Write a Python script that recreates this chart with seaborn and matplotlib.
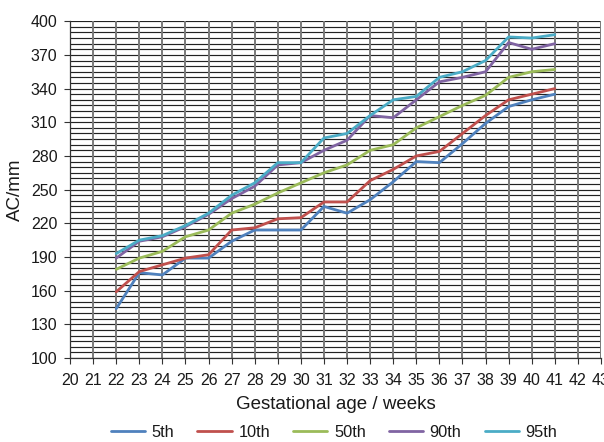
import numpy as np
import pandas as pd
import matplotlib
matplotlib.use("Agg")
import matplotlib.pyplot as plt
import seaborn as sns

weeks = list(range(22, 42))
p5 = [144, 176, 174, 189, 189, 204, 214, 214, 214, 235, 229, 241, 257, 275, 274, 291, 309, 324, 330, 335]
p10 = [159, 177, 183, 189, 192, 214, 216, 224, 225, 239, 239, 258, 268, 280, 284, 300, 316, 330, 335, 340]
p50 = [179, 189, 195, 208, 214, 229, 237, 247, 256, 265, 272, 285, 290, 305, 315, 325, 334, 350, 355, 357]
p90 = [189, 204, 208, 217, 228, 242, 253, 272, 274, 285, 294, 316, 314, 330, 346, 350, 355, 381, 375, 380]
p95 = [193, 205, 209, 218, 229, 245, 256, 274, 274, 296, 300, 316, 330, 333, 350, 355, 365, 386, 385, 388]

series_names = ["5th", "10th", "50th", "90th", "95th"]
colors = ["#4F81BD", "#C0504D", "#9BBB59", "#8064A2", "#4BACC6"]

df = pd.DataFrame({"week": weeks, "5th": p5, "10th": p10, "50th": p50, "90th": p90, "95th": p95})
long = df.melt(id_vars="week", var_name="centile", value_name="ac")

sns.set_theme(style="white")
plt.rcParams["font.family"] = ["Liberation Sans", "DejaVu Sans"]

fig = plt.figure(figsize=(6.04, 4.42), dpi=100)
ax = fig.add_axes([0.116, 0.19, 0.879, 0.762])

# grid: every 5 mm across, every week down
for v in range(100, 401, 5):
    ax.axhline(v, color="#222222", lw=0.85, zorder=0)
for w in range(20, 44):
    ax.axvline(w, color="#7a7a7a", lw=1.4, zorder=0)

sns.lineplot(data=long, x="week", y="ac", hue="centile", hue_order=series_names,
             palette=colors, lw=2.0, ax=ax, zorder=3)

ax.set_xlim(20, 43)
ax.set_ylim(100, 400)
ax.set_xticks(range(20, 44))
ax.set_yticks(range(100, 401, 30))
ax.tick_params(axis="both", labelsize=11.5, length=4, width=0.8, color="#333333",
               labelcolor="#1a1a1a", direction="out", bottom=True, left=True)
ax.tick_params(axis="x", pad=6.5)
ax.tick_params(axis="y", pad=5)
for s in ["top", "right"]:
    ax.spines[s].set_visible(False)
for s in ["left", "bottom"]:
    ax.spines[s].set_color("#333333")
    ax.spines[s].set_linewidth(0.9)

ax.set_xlabel("Gestational age / weeks", fontsize=13.5, color="#1a1a1a")
ax.set_ylabel("AC/mm", fontsize=13.5, color="#1a1a1a")
ax.xaxis.set_label_coords(0.5, -0.113)
ax.yaxis.set_label_coords(-0.087, 0.5)

ax.legend(loc="center", bbox_to_anchor=(0.553, 0.022), bbox_transform=fig.transFigure,
          ncol=5, frameon=False, fontsize=11.8, handlelength=2.1, columnspacing=1.4,
          handletextpad=0.4, labelcolor="#1a1a1a")

fig.savefig("out.png", dpi=100)
